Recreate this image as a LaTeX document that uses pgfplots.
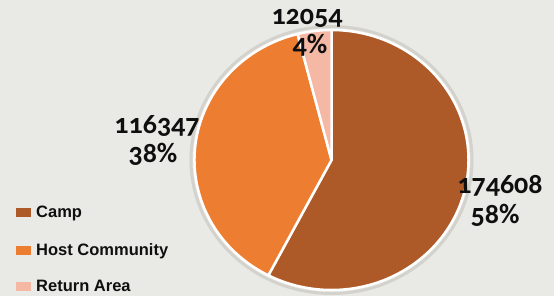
\documentclass[border=0pt]{standalone}
\usepackage{pgfplots}
\pgfplotsset{compat=1.18}
\usepackage{pgfplotstable}
\usepackage{fontspec}
\setmainfont{Liberation Sans}
\newfontfamily\numfont[Numbers=OldStyle]{Carlito}
\definecolor{bg}{RGB}{233,234,229}
\definecolor{camp}{RGB}{174,90,40}
\definecolor{host}{RGB}{237,125,49}
\definecolor{ret}{RGB}{244,184,164}
\definecolor{ring}{RGB}{212,210,204}
\definecolor{txt}{RGB}{15,15,15}
\pgfplotstableread{
label value
Camp 174608
Host 116347
Return 12054
}\piedata
\pgfplotstablegetelem{0}{value}\of\piedata \edef\va{\pgfplotsretval}
\pgfplotstablegetelem{1}{value}\of\piedata \edef\vb{\pgfplotsretval}
\pgfplotstablegetelem{2}{value}\of\piedata \edef\vc{\pgfplotsretval}
\edef\aA{\fpeval{round(90-360*\va/(\va+\vb+\vc),3)}}
\edef\aB{\fpeval{round(\aA-360*\vb/(\va+\vb+\vc),3)}}
\begin{document}
\begin{tikzpicture}
\begin{axis}[width=554bp,height=296bp,scale only axis,
  xmin=0,xmax=554,ymin=0,ymax=296,y dir=reverse,
  hide axis,clip=true]
\fill[bg] (axis cs:0,0) rectangle (axis cs:554,296);
\draw[ring,line width=3bp] (axis cs:331.5,160) ellipse [x radius=140.5bp,y radius=133.5bp];
\fill[camp,draw=white,line width=2.5bp,line join=round] (axis cs:331.5,160) -- ++(90:137bp and 130bp) arc[start angle=90,end angle=\aA,x radius=137bp,y radius=130bp] -- cycle;
\fill[host,draw=white,line width=2.5bp,line join=round] (axis cs:331.5,160) -- ++(\aA:137bp and 130bp) arc[start angle=\aA,end angle=\aB,x radius=137bp,y radius=130bp] -- cycle;
\fill[ret,draw=white,line width=2.5bp,line join=round] (axis cs:331.5,160) -- ++(\aB:137bp and 130bp) arc[start angle=\aB,end angle=-270,x radius=137bp,y radius=130bp] -- cycle;
% legend
\fill[camp] (axis cs:16,208) rectangle (axis cs:31,217);
\fill[host] (axis cs:16,246) rectangle (axis cs:31,255);
\fill[ret] (axis cs:16,282) rectangle (axis cs:31,291);
\tikzset{lg/.style={anchor=base west,inner sep=0,font=\fontsize{16.5bp}{19bp}\selectfont\bfseries,text=txt}}
\node[lg] at (axis cs:36,217) {Camp};
\node[lg] at (axis cs:36,255) {Host Community};
\node[lg] at (axis cs:36,291) {Return Area};
% data labels
\tikzset{dl/.style={anchor=base,inner sep=0,font=\numfont\fontsize{28bp}{30bp}\selectfont\bfseries,text=txt}}
\node[dl] at (axis cs:500,193) {174608};
\node[dl] at (axis cs:495,223) {58\%};
\node[dl] at (axis cs:157,133) {116347};
\node[dl] at (axis cs:153,162) {38\%};
\node[dl] at (axis cs:307,25) {12054};
\node[dl] at (axis cs:310,53) {4\%};
\end{axis}
\end{tikzpicture}
\end{document}
